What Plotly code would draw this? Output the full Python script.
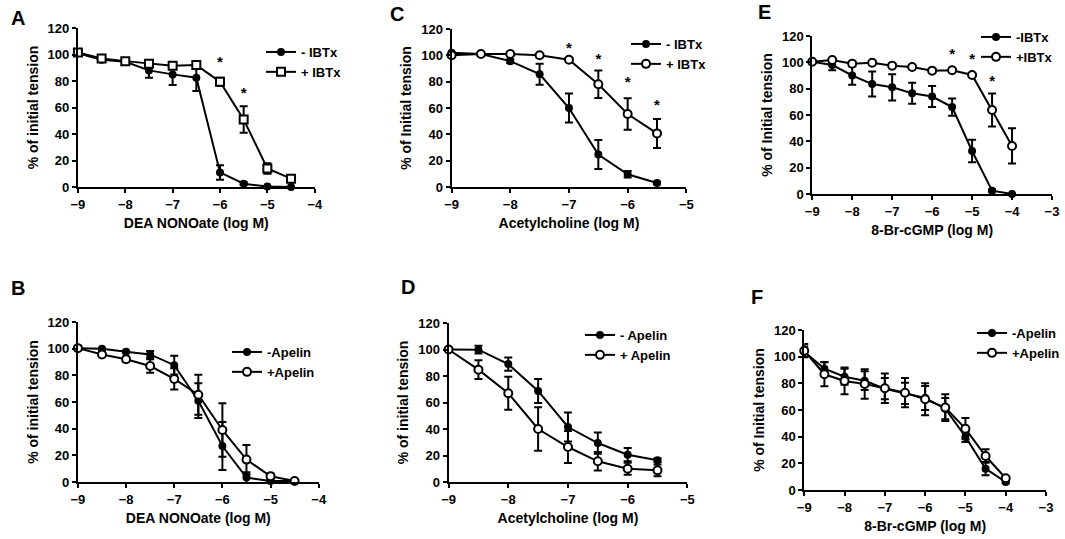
import plotly.graph_objects as go

W, H = 1065, 539
FONT = "Arial, 'Liberation Sans', sans-serif"

# --- data ------------------------------------------------------------------
X_DEA = [-9, -8.5, -8, -7.5, -7, -6.5, -6, -5.5, -5, -4.5]
X_ACH = [-9, -8.5, -8, -7.5, -7, -6.5, -6, -5.5]
X_CGMP = [-9, -8.5, -8, -7.5, -7, -6.5, -6, -5.5, -5, -4.5, -4]

# A: DEA NONOate, +/- IBTx
A_MINUS = [101, 96, 94.5, 88, 85, 82.5, 11, 2.5, 0.3, 0]
A_MINUS_ERR = [0, 1.5, 1.5, 5.5, 8, 10, 5.5, 1, 0, 0]
A_PLUS = [101.5, 97, 95, 93, 91.5, 92, 79.5, 51, 14, 6.3]
A_PLUS_ERR = [1, 1.5, 1.5, 1.5, 1.5, 1.5, 3, 10, 4, 1]
A_STAR_X = [-6, -5.5]
A_STAR_Y = [93.5, 70]

# B: DEA NONOate, +/- apelin
B_MINUS = [100.4, 99.9, 97.7, 95.7, 87.6, 61, 27, 3.3, 0.7, 0.7]
B_MINUS_ERR = [0, 0.5, 1, 2.5, 7, 13, 18, 4, 0, 0]
B_PLUS = [100.4, 95.6, 92, 87, 77.3, 65.5, 39, 16.8, 4.3, 0.8]
B_PLUS_ERR = [0, 1.5, 2, 5, 8, 15, 20, 11, 2, 0]

# C: acetylcholine, +/- IBTx
C_MINUS = [102, 101, 95.6, 85.7, 60, 24.7, 9.7, 3]
C_MINUS_ERR = [0.5, 0.5, 1.5, 8, 11, 11, 2.5, 1]
C_PLUS = [100, 101, 101, 100, 96.6, 78, 55.4, 40.7]
C_PLUS_ERR = [0.5, 0.5, 0.5, 1, 1.5, 10.5, 12, 11]
C_STAR_X = [-7, -6.5, -6, -5.5]
C_STAR_Y = [105, 96.6, 79, 61]

# D: acetylcholine, +/- apelin
D_MINUS = [100, 99.9, 89, 68.7, 41.5, 29.4, 20.6, 16.4]
D_MINUS_ERR = [0, 3, 5, 9, 11, 8, 5, 1.5]
D_PLUS = [100, 84.8, 67, 40, 26.4, 15.6, 10, 8.8]
D_PLUS_ERR = [0, 7, 12.5, 16.5, 12, 7, 4.5, 4.5]

# E: 8-Br-cGMP, +/- IBTx
E_MINUS = [100.5, 98, 90, 83.5, 81, 76.5, 74, 66, 32.7, 2.5, 0]
E_MINUS_ERR = [0, 4, 7, 9.5, 10, 8, 8, 6.5, 8.5, 1, 0]
E_PLUS = [100.5, 101.8, 99, 99.7, 97.5, 96.5, 93.7, 94, 90.4, 63.8, 36.5]
E_PLUS_ERR = [0, 0.5, 0.5, 0.5, 1, 1, 1, 1, 1.5, 12.6, 13.4]
E_STAR_X = [-5.5, -5, -4.5]
E_STAR_Y = [105.6, 101.8, 84.8]

# F: 8-Br-cGMP, +/- apelin
F_MINUS = [103.7, 91, 85, 82, 76, 72.5, 69, 61, 40, 16, 6]
F_MINUS_ERR = [4, 5, 6, 7, 8, 8, 9, 8, 4, 5, 1]
F_PLUS = [104.5, 86.8, 81.8, 79.5, 76.3, 73, 68, 61.8, 46, 25.5, 8.8]
F_PLUS_ERR = [5, 9, 10, 11, 11, 11, 12, 10, 8, 5, 1]

Y_TICKS = [0, 20, 40, 60, 80, 100, 120]


def px(x0, x1, y0, y1):
    """Pixel box of the plot area -> paper domains."""
    return [x0 / W, x1 / W], [1 - y1 / H, 1 - y0 / H]


# per panel: letter, pixel box (left, right, top, bottom), x range, titles,
# legend labels, open symbol, data, stars, letter pos, legend pos
PANELS = [
    dict(letter="A", box=(78, 315, 28, 187), xr=(-9, -4),
         xt="DEA NONOate (log M)", yt="% of initial tension",
         names=("- IBTx", "+ IBTx"), sym="square", x=X_DEA,
         minus=(A_MINUS, A_MINUS_ERR), plus=(A_PLUS, A_PLUS_ERR),
         stars=(A_STAR_X, A_STAR_Y), lpos=(18, 18), leg=(261, 37)),
    dict(letter="C", box=(452, 687, 29, 187), xr=(-9, -5),
         xt="Acetylcholine (log M)", yt="% of Initial tension",
         names=("- IBTx", "+ IBTx"), sym="circle", x=X_ACH,
         minus=(C_MINUS, C_MINUS_ERR), plus=(C_PLUS, C_PLUS_ERR),
         stars=(C_STAR_X, C_STAR_Y), lpos=(397, 14), leg=(626, 29)),
    dict(letter="E", box=(813, 1053, 36, 194), xr=(-9, -3),
         xt="8-Br-cGMP (log M)", yt="% of Initial tension",
         names=("-IBTx", "+IBTx"), sym="circle", x=X_CGMP,
         minus=(E_MINUS, E_MINUS_ERR), plus=(E_PLUS, E_PLUS_ERR),
         stars=(E_STAR_X, E_STAR_Y), lpos=(765, 12), leg=(976, 22)),
    dict(letter="B", box=(78, 319, 322, 482), xr=(-9, -4),
         xt="DEA NONOate (log M)", yt="% of initial tension",
         names=("-Apelin", "+Apelin"), sym="circle", x=X_DEA,
         minus=(B_MINUS, B_MINUS_ERR), plus=(B_PLUS, B_PLUS_ERR),
         stars=None, lpos=(18, 288), leg=(227, 337)),
    dict(letter="D", box=(449, 688, 323, 482), xr=(-9, -5),
         xt="Acetylcholine (log M)", yt="% of initial tension",
         names=("- Apelin", "+ Apelin"), sym="circle", x=X_ACH,
         minus=(D_MINUS, D_MINUS_ERR), plus=(D_PLUS, D_PLUS_ERR),
         stars=None, lpos=(408, 287), leg=(580, 320)),
    dict(letter="F", box=(805, 1047, 330, 490), xr=(-9, -3),
         xt="8-Br-cGMP (log M)", yt="% of Initial tension",
         names=("-Apelin", "+Apelin"), sym="circle", x=X_CGMP,
         minus=(F_MINUS, F_MINUS_ERR), plus=(F_PLUS, F_PLUS_ERR),
         stars=None, lpos=(758, 297), leg=(973, 318)),
]

fig = go.Figure()
layout = dict(width=W, height=H, margin=dict(l=0, r=0, t=0, b=0),
              paper_bgcolor="white", plot_bgcolor="white",
              font=dict(family=FONT, color="black", weight="bold"),
              annotations=[])

for i, p in enumerate(PANELS, start=1):
    sfx = "" if i == 1 else str(i)
    xa, ya = "x" + sfx, "y" + sfx
    leg = "legend" + sfx
    xd, yd = px(*p["box"])
    tickvals = list(range(p["xr"][0], p["xr"][1] + 1))
    axis_common = dict(showline=True, linecolor="black", linewidth=2,
                       ticks="outside", ticklen=4, tickwidth=2,
                       tickcolor="black", showgrid=False, zeroline=False,
                       automargin=False,
                       tickfont=dict(size=13, weight="bold"))
    layout["xaxis" + sfx] = dict(
        axis_common, domain=xd, range=list(p["xr"]), tickvals=tickvals,
        anchor=ya, title=dict(text=p["xt"], standoff=8,
                              font=dict(size=14, weight="bold")))
    layout["yaxis" + sfx] = dict(
        axis_common, domain=yd, range=[0, 120], tickvals=Y_TICKS,
        anchor=xa, title=dict(text=p["yt"], standoff=6,
                              font=dict(size=14, weight="bold")))
    lx, ly = p["leg"]
    layout[leg] = dict(x=lx / W, y=1 - ly / H, xanchor="left",
                       yanchor="top", bgcolor="rgba(0,0,0,0)",
                       font=dict(size=13, weight="bold"),
                       tracegroupgap=0, itemwidth=30)

    for (vals, err), name, sym, size, fill in (
            (p["minus"], p["names"][0], "circle", 6, "black"),
            (p["plus"], p["names"][1], p["sym"], 8, "white")):
        fig.add_trace(go.Scatter(
            x=p["x"], y=vals, name=name, mode="lines+markers",
            xaxis=xa, yaxis=ya, legend=leg, cliponaxis=False,
            line=dict(color="black", width=2),
            marker=dict(symbol=sym, size=size, color=fill,
                        line=dict(color="black", width=2)),
            error_y=dict(type="data", array=err, color="black",
                         thickness=2, width=4)))
    if p["stars"]:
        sx, sy = p["stars"]
        fig.add_trace(go.Scatter(
            x=sx, y=sy, mode="text", text=["*"] * len(sx),
            textfont=dict(size=15, weight="bold"),
            xaxis=xa, yaxis=ya, showlegend=False, cliponaxis=False,
            hoverinfo="skip"))
    lxp, lyp = p["lpos"]
    layout["annotations"].append(dict(
        text=p["letter"], x=lxp / W, y=1 - lyp / H, xref="paper",
        yref="paper", xanchor="center", yanchor="middle", showarrow=False,
        font=dict(size=20, weight="bold")))

fig.update_layout(layout)
# the page's default 8px body margin would push the figure off the window
fig.write_html("out.html", config={"displayModeBar": False},
               post_script="document.body.style.margin='0';")
